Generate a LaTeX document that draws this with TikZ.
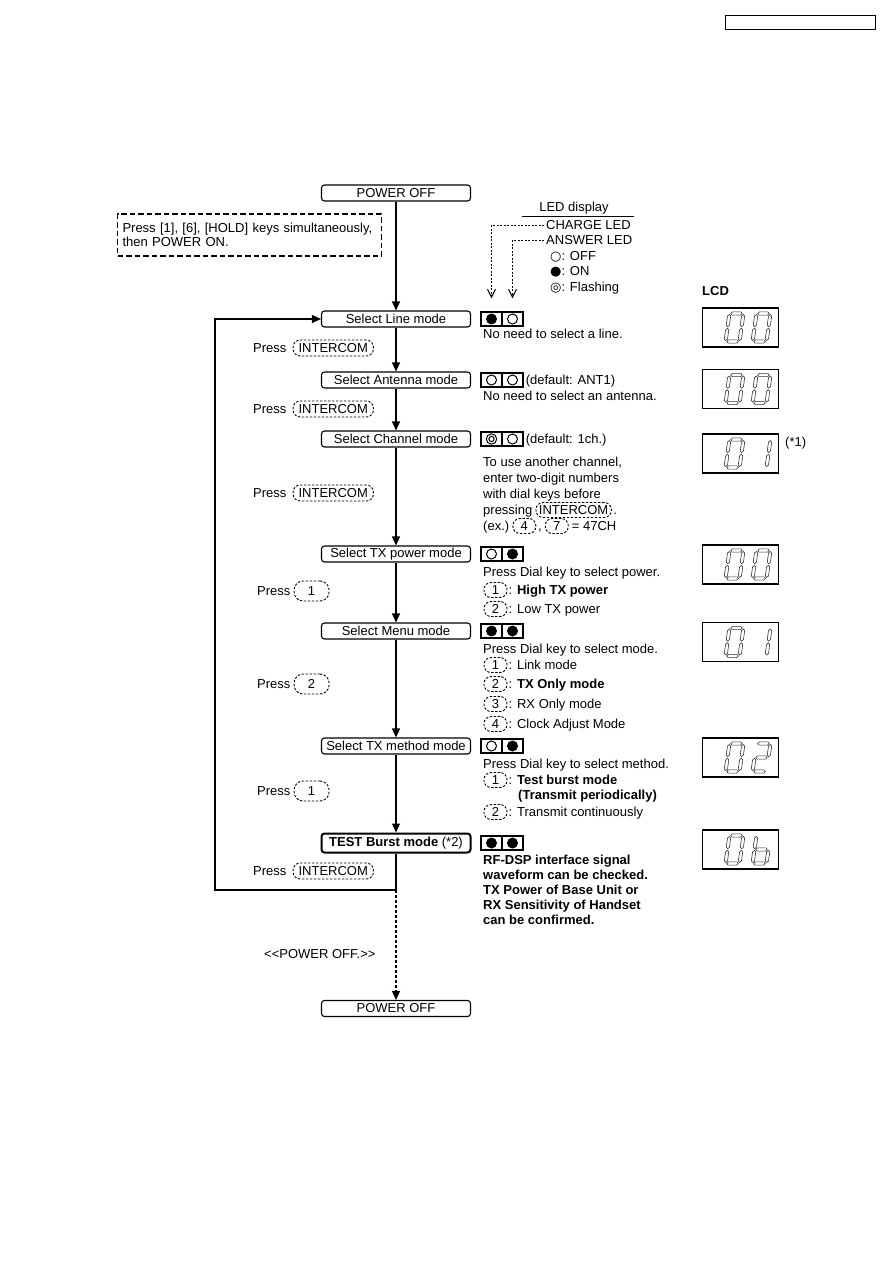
\documentclass[tikz,border=0pt]{standalone}
\usepackage{fontspec}
\setmainfont{Liberation Sans}
\newfontfamily\symfont{DejaVu Sans}
\usetikzlibrary{arrows.meta,positioning}
\newcommand\fs{\fontsize{13}{14.5}\selectfont}
\newcommand\lcdH[1]{\draw[lcdseg] (-5.8,#1) -- ++(1.6,-1.6) -- ++(8.4,0) -- ++(1.6,1.6) -- ++(-1.6,1.6) -- ++(-8.4,0) -- cycle;}
\newcommand\lcdV[2]{\draw[lcdseg] (#1,#2) -- ++(1.6,1.6) -- ++(0,9) -- ++(-1.6,1.6) -- ++(-1.6,-1.6) -- ++(0,-9) -- cycle;}
\expandafter\def\csname lcdsega\endcsname{\lcdH{-14}}
\expandafter\def\csname lcdsegg\endcsname{\lcdH{0}}
\expandafter\def\csname lcdsegd\endcsname{\lcdH{14}}
\expandafter\def\csname lcdsegf\endcsname{\lcdV{-7}{-13}}
\expandafter\def\csname lcdsegb\endcsname{\lcdV{7}{-13}}
\expandafter\def\csname lcdsege\endcsname{\lcdV{-7}{0.8}}
\expandafter\def\csname lcdsegc\endcsname{\lcdV{7}{0.8}}
\newcommand\lcddigit[3]{\begin{scope}[shift={(#1,#2)},xslant=0.14]\foreach \s in {#3}{\csname lcdseg\s\endcsname}\end{scope}}
\newcommand\ledsym[2]{\ifcase#1 \draw[line width=1pt] (#2) circle[radius=5pt];\or \fill (#2) circle[radius=5.5pt];\or \draw[line width=1pt] (#2) circle[radius=5.2pt] (#2) circle[radius=2.6pt];\fi}
\newcommand\ledpair[4]{%
  \node[ledcell] (#1a) at (491.5,#2) {};
  \node[ledcell] (#1b) at (512.5,#2) {};
  \ledsym{#3}{#1a}\ledsym{#4}{#1b}}
\begin{document}
\begin{tikzpicture}[x=1pt,y=-1pt,
  every node/.style={font=\fs},
  modebox/.style={draw, line width=1.1pt, rounded corners=3pt, minimum width=149pt, minimum height=16pt, inner sep=0pt},
  txt/.style={anchor=west, inner sep=0pt, text height=10pt, text depth=2pt},
  bkey/.style={draw, dash pattern=on 2.4pt off 1.6pt, line width=0.9pt, rounded corners=7pt, inner xsep=5.5pt, inner ysep=0pt, minimum height=16pt},
  bdig/.style={bkey, rounded corners=9pt, minimum width=35pt, minimum height=20pt, inner xsep=0pt},
  skey/.style={bkey, minimum height=15pt, inner xsep=3pt},
  sdig/.style={bkey, rounded corners=7pt, minimum width=23pt, minimum height=15pt, inner xsep=0pt},
  flow/.style={line width=1.2pt, -{Triangle[length=9pt,width=8pt]}},
  legarrow/.style={line width=0.9pt, dash pattern=on 2pt off 1.5pt, -{Straight Barb[length=8pt,width=8pt,line width=1pt]}},
  ledcell/.style={draw, line width=1.2pt, minimum width=21pt, minimum height=14pt, inner sep=0pt},
  lcdbox/.style={draw, line width=1.6pt, minimum width=76pt, minimum height=39pt, inner sep=0pt},
  lcdseg/.style={line width=0.6pt, black!80}]
\useasboundingbox (0,0) rectangle (893,1263);
% header box
\node[draw, line width=1pt, minimum width=150pt, minimum height=14pt, inner sep=0pt] (hdr) at (800,23) {};
% flow boxes
\node[modebox] (poff1) at (396,193) {POWER OFF};
\node[modebox] (line) at (396,319) {Select Line mode};
\node[modebox] (ant) at (396,380) {Select Antenna mode};
\node[modebox] (chan) at (396,439) {Select Channel mode};
\node[modebox] (txp) at (396,554) {Select TX power mode};
\node[modebox] (menu) at (396,631) {Select Menu mode};
\node[modebox] (meth) at (396,746) {Select TX method mode};
\node[modebox, line width=2pt, minimum height=19pt] (burst) at (396,843) {\textbf{TEST Burst mode} (*2)};
\node[modebox] (poff2) at (396,1008.5) {POWER OFF};
% hint
\node[draw, dash pattern=on 5.5pt off 3pt, line width=1.2pt, minimum width=264pt, minimum height=42pt, text width=254pt, align=left, inner sep=0pt] (hint) at (249.5,235) {Press [1], [6], [HOLD] keys simultaneously,\\then POWER ON.};
% flow arrows
\draw[flow] (poff1) -- (line);
\draw[flow] (line) -- (ant);
\draw[flow] (ant) -- (chan);
\draw[flow] (chan) -- (txp);
\draw[flow] (txp) -- (menu);
\draw[flow] (menu) -- (meth);
\draw[flow] (meth) -- (burst);
\coordinate (jb) at (396,890);
\coordinate (lb) at (215,890);
\coordinate (lt) at (215,319);
\draw[flow] (burst.south) -- (jb) -- (lb) -- (lt) -- (line.west);
\draw[flow, dash pattern=on 3pt off 2pt] (jb) -- (poff2.north);
\node[txt] (poffnote) at (264,954) {{<}{<}POWER OFF.{>}{>}};
% press labels
\node[txt] (p1) at (253,348) {Press};
\node[bkey, right=6pt of p1] (p1k) {INTERCOM};
\node[txt] (p2) at (253,409) {Press};
\node[bkey, right=6pt of p2] (p2k) {INTERCOM};
\node[txt] (p3) at (253,493) {Press};
\node[bkey, right=6pt of p3] (p3k) {INTERCOM};
\node[txt] (p4) at (257,591) {Press};
\node[bdig, right=3pt of p4] (p4k) {1};
\node[txt] (p5) at (257,684) {Press};
\node[bdig, right=3pt of p5] (p5k) {2};
\node[txt] (p6) at (257,791) {Press};
\node[bdig, right=3pt of p6] (p6k) {1};
\node[txt] (p7) at (253,871) {Press};
\node[bkey, right=6pt of p7] (p7k) {INTERCOM};
% LED legend
\node (leddisp) at (574,208) {LED display};
\draw[line width=0.9pt] (522,216) -- (634,216);
\node[txt] (chg) at (546,225) {CHARGE LED};
\node[txt] (ans) at (546,240) {ANSWER LED};
\node[txt] (loff) at (550,256) {{\symfont ○}: OFF};
\node[txt] (lon) at (550,271) {{\symfont ●}: ON};
\node[txt] (lfl) at (550,287) {{\symfont ◎}: Flashing};
% LED pairs and descriptions
\ledpair{ledA}{319}{1}{0}
\draw[legarrow] ([xshift=-2pt]chg.west) -| ([yshift=13pt]ledAa.north);
\draw[legarrow] ([xshift=-2pt]ans.west) -| ([yshift=13pt]ledAb.north);
\node[txt] (tA1) at (483,334) {No need to select a line.};
\ledpair{ledB}{380}{0}{0}
\node[txt, right=2pt of ledBb] (tB0) {(default: ANT1)};
\node[txt] (tB1) at (483,396) {No need to select an antenna.};
\ledpair{ledC}{439}{2}{0}
\node[txt, right=2pt of ledCb] (tC0) {(default: 1ch.)};
\node[txt] (tC1) at (483,462) {To use another channel,};
\node[txt] (tC2) at (483,478) {enter two-digit numbers};
\node[txt] (tC3) at (483,494) {with dial keys before};
\node[txt] (tC4) at (483,510) {pressing};
\node[skey, right=3pt of tC4] (tC4k) {INTERCOM};
\node[txt, right=1.5pt of tC4k] (tC4e) {.};
\node[txt] (tC5) at (483,526) {(ex.)};
\node[sdig, right=3pt of tC5] (tC5a) {4};
\node[txt, right=1.5pt of tC5a] (tC5b) {,};
\node[sdig, right=3pt of tC5b] (tC5c) {7};
\node[txt, right=3pt of tC5c] (tC5d) {= 47CH};
\ledpair{ledD}{554}{0}{1}
\node[txt] (tD1) at (483,572) {Press Dial key to select power.};
\node[sdig] (tD2k) at (495.5,590) {1};
\node[txt, right=1pt of tD2k] (tD2) {: \textbf{High TX power}};
\node[sdig] (tD3k) at (495.5,609) {2};
\node[txt, right=1pt of tD3k] (tD3) {: Low TX power};
\ledpair{ledE}{631}{1}{1}
\node[txt] (tE1) at (483,649) {Press Dial key to select mode.};
\node[sdig] (tE2k) at (495.5,665) {1};
\node[txt, right=1pt of tE2k] (tE2) {: Link mode};
\node[sdig] (tE3k) at (495.5,684) {2};
\node[txt, right=1pt of tE3k] (tE3) {: \textbf{TX Only mode}};
\node[sdig] (tE4k) at (495.5,704) {3};
\node[txt, right=1pt of tE4k] (tE4) {: RX Only mode};
\node[sdig] (tE5k) at (495.5,724) {4};
\node[txt, right=1pt of tE5k] (tE5) {: Clock Adjust Mode};
\ledpair{ledF}{746}{0}{1}
\node[txt] (tF1) at (483,764) {Press Dial key to select method.};
\node[sdig] (tF2k) at (495.5,780) {1};
\node[txt, right=1pt of tF2k] (tF2) {: \textbf{Test burst mode}};
\node[txt] (tF3) at (518,795) {\textbf{(Transmit periodically)}};
\node[sdig] (tF4k) at (495.5,812) {2};
\node[txt, right=1pt of tF4k] (tF4) {: Transmit continuously};
\ledpair{ledG}{843}{1}{1}
\node[txt, font=\fs\bfseries] (tG1) at (483,860) {RF-DSP interface signal};
\node[txt, font=\fs\bfseries] (tG2) at (483,875) {waveform can be checked.};
\node[txt, font=\fs\bfseries] (tG3) at (483,890) {TX Power of Base Unit or};
\node[txt, font=\fs\bfseries] (tG4) at (483,905) {RX Sensitivity of Handset};
\node[txt, font=\fs\bfseries] (tG5) at (483,920) {can be confirmed.};
% LCD
\node[txt, font=\fs\bfseries] (lcdlbl) at (702,291) {LCD};
\node[lcdbox] (lcd1) at (740.3,327.5) {};
\lcddigit{734.5}{327.5}{a,b,c,d,e,f}
\lcddigit{761.5}{327.5}{a,b,c,d,e,f}
\node[lcdbox] (lcd2) at (740.3,389) {};
\lcddigit{734.5}{389}{a,b,c,d,e,f}
\lcddigit{761.5}{389}{a,b,c,d,e,f}
\node[lcdbox] (lcd3) at (740.3,453.5) {};
\lcddigit{734.5}{453.5}{a,b,c,d,e,f}
\lcddigit{761.5}{453.5}{b,c}
\node[txt] (star1) at (785,442) {(*1)};
\node[lcdbox] (lcd4) at (740.3,564.5) {};
\lcddigit{734.5}{564.5}{a,b,c,d,e,f}
\lcddigit{761.5}{564.5}{a,b,c,d,e,f}
\node[lcdbox] (lcd5) at (740.3,642) {};
\lcddigit{734.5}{642}{a,b,c,d,e,f}
\lcddigit{761.5}{642}{b,c}
\node[lcdbox] (lcd6) at (740.3,757.5) {};
\lcddigit{734.5}{757.5}{a,b,c,d,e,f}
\lcddigit{761.5}{757.5}{a,b,g,e,d}
\node[lcdbox] (lcd7) at (740.3,849.5) {};
\lcddigit{734.5}{849.5}{a,b,c,d,e,f}
\lcddigit{761.5}{849.5}{f,e,d,c,g}
\end{tikzpicture}
\end{document}
